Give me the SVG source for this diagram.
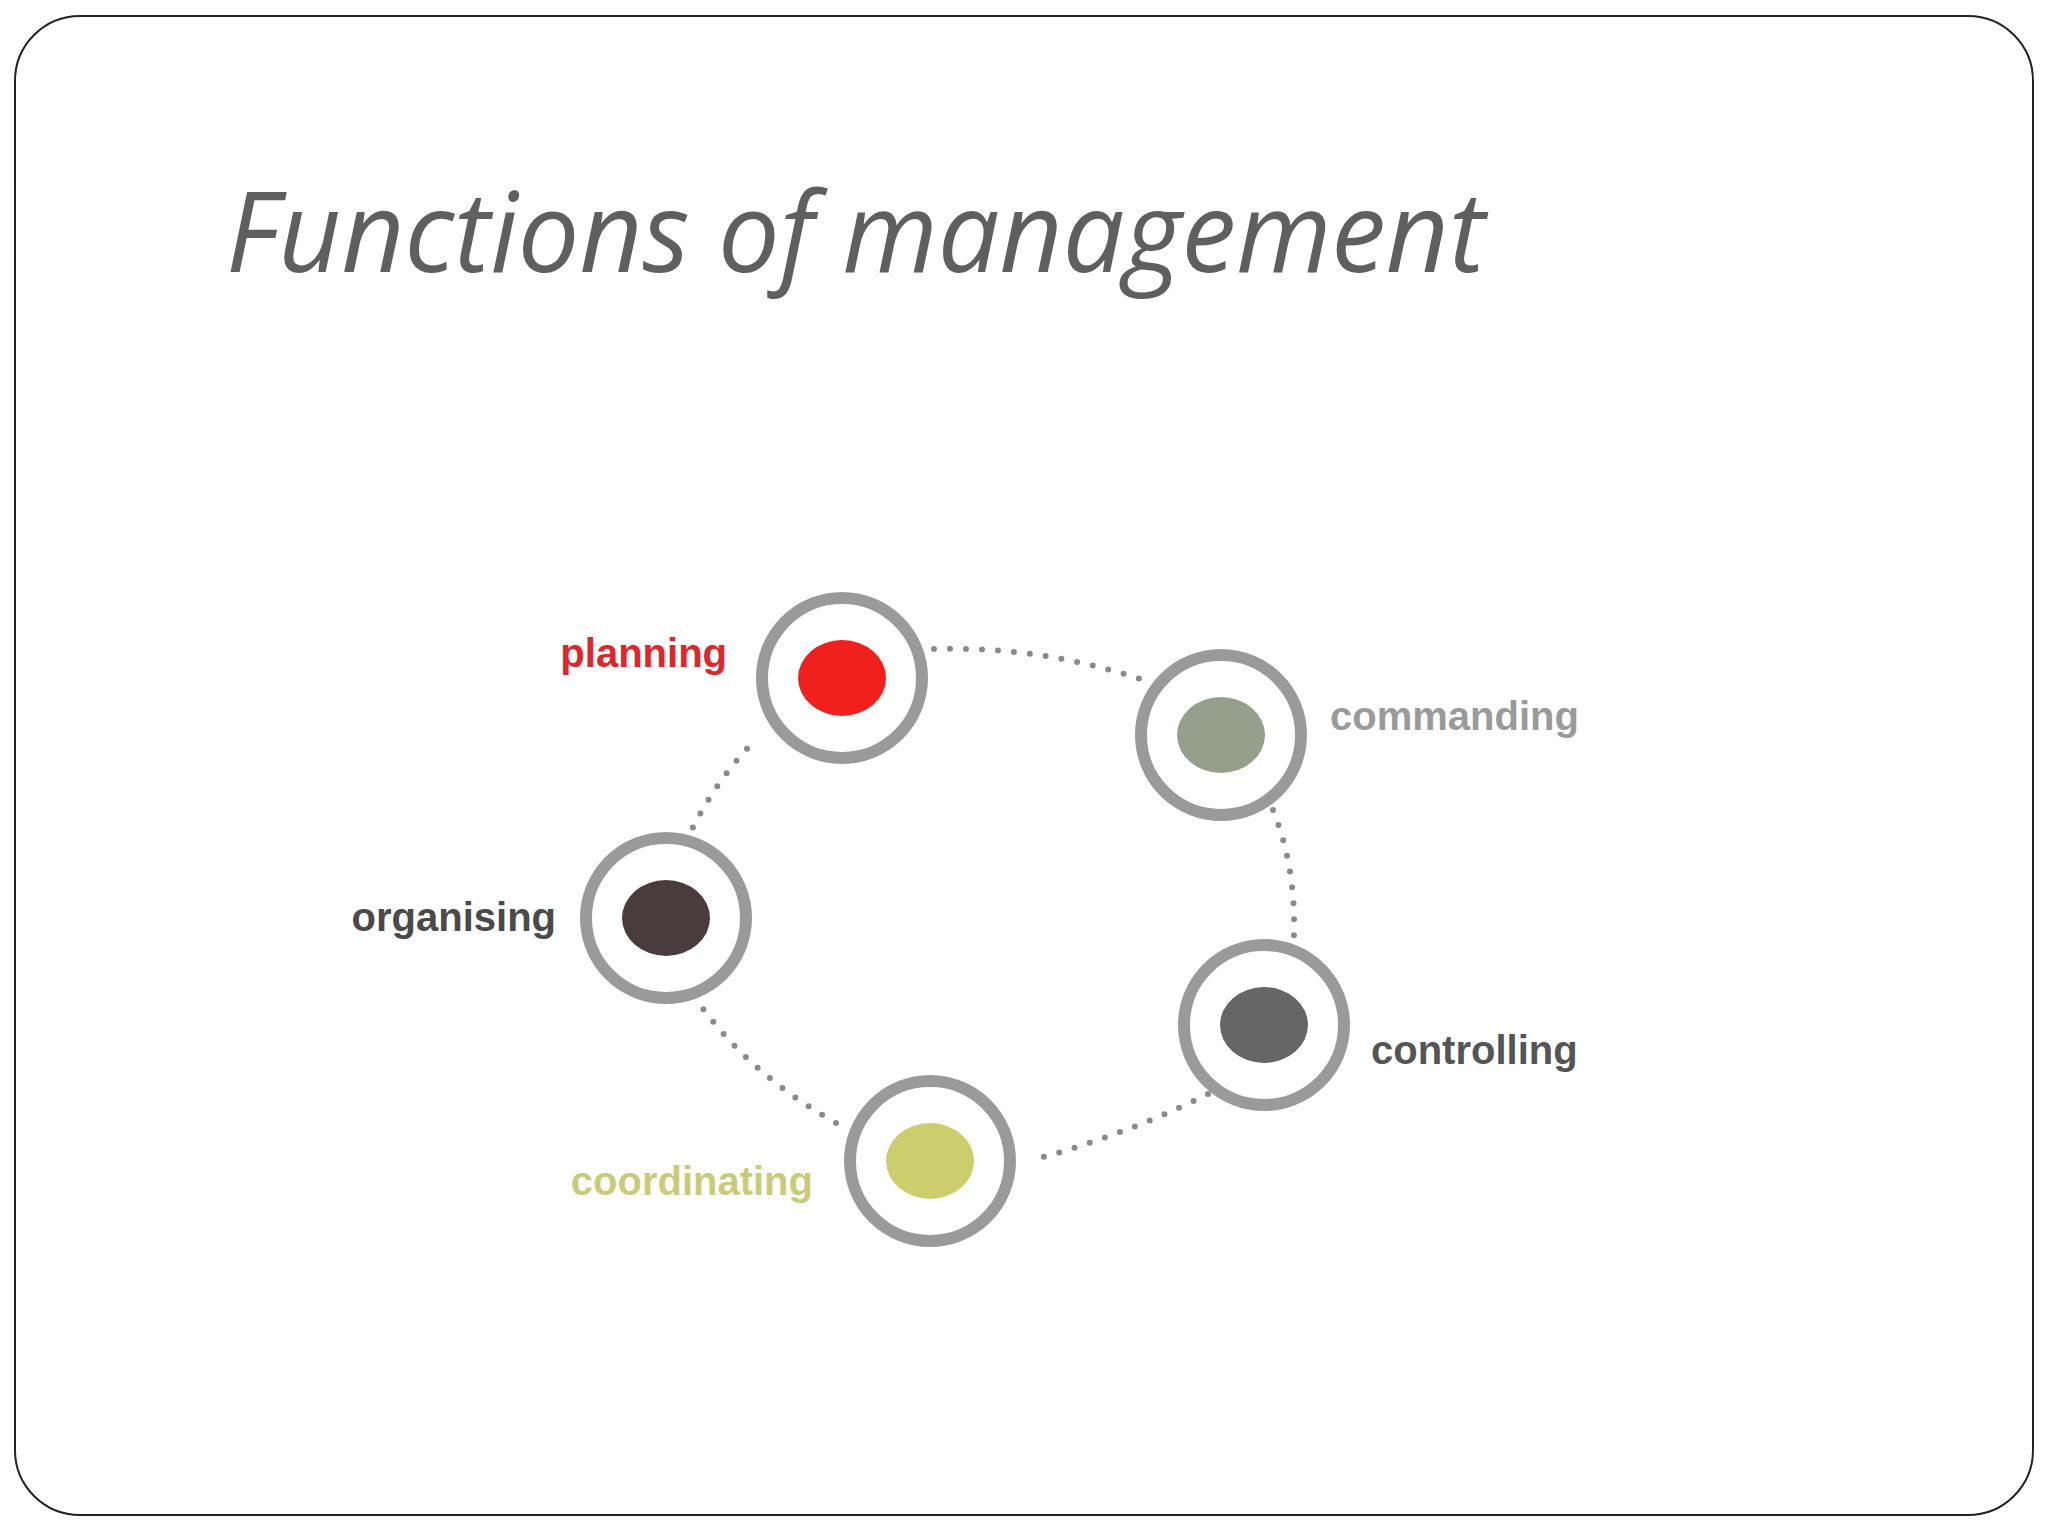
<svg xmlns="http://www.w3.org/2000/svg" width="2048" height="1536" viewBox="0 0 2048 1536">
<style>
.ring{fill:#fff;stroke:#9a9a9a;stroke-width:12}
.lbl{font-family:"Liberation Sans",Arial,sans-serif;font-weight:bold;font-size:40px}
.dots{fill:none;stroke:#8a8a8a;stroke-width:6;stroke-linecap:round;stroke-dasharray:0 16}
</style>
<rect x="0" y="0" width="2048" height="1536" fill="#fff"/>
<rect x="15" y="16" width="2018" height="1499" rx="65" fill="#fff" stroke="#222" stroke-width="2"/>
<text x="226" y="272" font-family="'Open Sans',sans-serif" font-style="italic" font-size="112" fill="#5f5f5f" textLength="1259" lengthAdjust="spacingAndGlyphs">Functions of management</text>
<g id="connectors">
<path class="dots" d="M934 649 Q1045 646 1149 682"/>
<path class="dots" d="M1273 810 Q1299 875 1293 953"/>
<path class="dots" d="M1208 1094 Q1123 1136 1032 1160"/>
<path class="dots" d="M836 1123 Q744 1071 692 993"/>
<path class="dots" d="M686 842 Q712 784 757 738"/>
</g>
<g id="planning"><circle class="ring" cx="842" cy="678" r="80"/><ellipse cx="842" cy="678" rx="44" ry="38" fill="#f0201c"/><text class="lbl" x="727" y="667" text-anchor="end" fill="#e0262a">planning</text></g>
<g id="commanding"><circle class="ring" cx="1221" cy="735" r="80"/><ellipse cx="1221" cy="735" rx="44" ry="38" fill="#94a08c"/><text class="lbl" x="1330" y="730" fill="#9a9a9a">commanding</text></g>
<g id="organising"><circle class="ring" cx="666" cy="918" r="80"/><ellipse cx="666" cy="918" rx="44" ry="38" fill="#4a3c3e"/><text class="lbl" x="556" y="931" text-anchor="end" fill="#4a4a4a">organising</text></g>
<g id="controlling"><circle class="ring" cx="1264" cy="1025" r="80"/><ellipse cx="1264" cy="1025" rx="44" ry="38" fill="#666"/><text class="lbl" x="1371" y="1064" fill="#555">controlling</text></g>
<g id="coordinating"><circle class="ring" cx="930" cy="1161" r="80"/><ellipse cx="930" cy="1161" rx="44" ry="38" fill="#cccd6c"/><text class="lbl" x="813" y="1195" text-anchor="end" fill="#c8cc78">coordinating</text></g>
</svg>
